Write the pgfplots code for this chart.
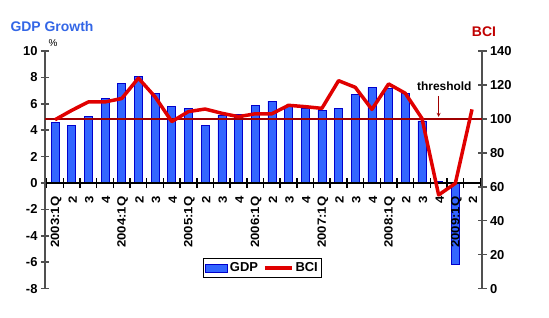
\documentclass[border=0pt]{standalone}
\usepackage{fontspec}
\setmainfont{Liberation Sans}
\newfontfamily\xlab{Liberation Sans}[FakeStretch=1.1]
\usepackage{pgfplots}
\pgfplotsset{compat=1.18}
\definecolor{gdpblue}{HTML}{3366FF}
\definecolor{gdpdark}{HTML}{0000CC}
\definecolor{titleblue}{HTML}{3366E6}
\definecolor{bcired}{HTML}{E00000}
\definecolor{bcititle}{HTML}{C00000}
\definecolor{thresh}{HTML}{A00000}
\definecolor{axisgray}{HTML}{505050}
\begin{document}
\begin{tikzpicture}
\begin{axis}[
  at={(45bp,29.4bp)}, anchor=south west,
  width=437bp, height=237.6bp, scale only axis,
  xmin=-0.6, xmax=25.6, ymin=-8, ymax=10,
  enlargelimits=false,
  axis x line=middle, axis y line=left,
  axis line style={-, line width=1.5bp},
  x axis line style={black},
  y axis line style={axisgray},
  axis on top,
  tick align=center,
  major tick length=8bp, minor tick length=10bp,
  ytick={-8,-6,...,10},
  ytick style={axisgray, line width=1.5bp},
  yticklabel style={font=\bfseries\fontsize{13}{13}\selectfont, /pgf/number format/assume math mode=true},
  xtick={0,...,25},
  xticklabels={2003:1Q,2,3,4,2004:1Q,2,3,4,2005:1Q,2,3,4,2006:1Q,2,3,4,2007:1Q,2,3,4,2008:1Q,2,3,4,2009:1Q,2},
  major x tick style={draw=none},
  minor xtick={-0.5,0.5,...,25.5},
  minor x tick style={black, line width=1.5bp},
  xticklabel style={rotate=90, anchor=east, font=\xlab\bfseries\fontsize{12}{12}\selectfont, xshift=-6bp, yshift=-1bp},
  legend columns=2,
  legend style={at={(0.4977,0.0867)}, anchor=center, draw=black, line width=0.8bp,
    font=\bfseries\fontsize{13}{13}\selectfont, inner sep=2bp,
    /tikz/every even column/.append style={column sep=3bp}},
]
\addplot[ybar, bar width=8bp, fill=gdpblue, draw=gdpdark, line width=0.6bp,
  legend image code/.code={\draw[fill=gdpblue, draw=gdpdark, line width=0.8bp] (0bp,-4bp) rectangle (22bp,4bp);}]
  coordinates {
  (0,4.62) (1,4.39) (2,5.07) (3,6.41) (4,7.55) (5,8.05) (6,6.79) (7,5.83)
  (8,5.66) (9,4.39) (10,5.15) (11,5.2) (12,5.9) (13,6.2) (14,5.78) (15,5.66)
  (16,5.53) (17,5.66) (18,6.74) (19,7.25) (20,7.17) (21,6.79) (22,4.7) (23,0.15)
  (24,-6.16)};
\addlegendentry{GDP}
\addlegendimage{legend image code/.code={\draw[bcired, line width=3.5bp] (0bp,0bp) -- (27bp,0bp);}}
\addlegendentry{BCI}
\end{axis}
\begin{axis}[
  at={(45bp,29.4bp)}, anchor=south west,
  width=437bp, height=237.6bp, scale only axis,
  xmin=-0.6, xmax=25.6, ymin=0, ymax=140,
  enlargelimits=false,
  axis x line=none, axis y line*=right,
  xtick=\empty,
  axis line style={-, line width=2bp, axisgray},
  tick align=center, major tick length=9bp,
  ytick={0,20,...,140},
  ytick style={axisgray, line width=1.5bp},
  yticklabel style={font=\bfseries\fontsize{13}{13}\selectfont, /pgf/number format/assume math mode=true},
]
\addplot[thresh, line width=1.5bp] coordinates {(-0.6,100) (25.6,100)};
\addplot[bcired, line width=3.5bp, line join=round] coordinates {
  (0,99.5) (1,105) (2,110) (3,110) (4,112) (5,124) (6,113) (7,98.4)
  (8,104.3) (9,105.8) (10,103.3) (11,101.3) (12,103) (13,103) (14,108) (15,107.2)
  (16,106.2) (17,122.5) (18,118.6) (19,105.6) (20,120.6) (21,115.1) (22,100.3) (23,55.2)
  (24,62) (25,105.6)};
\draw[thresh, line width=0.8bp, -stealth] (axis cs:23,113.5) -- (axis cs:23,101.2);
\node[font=\bfseries\fontsize{12}{12}\selectfont, inner sep=0pt] at (axis cs:23.34,119.1) {threshold};
\end{axis}
\node[font=\bfseries\fontsize{14}{14}\selectfont, text=titleblue, inner sep=0pt] at (52bp,291bp) {GDP Growth};
\node[font=\bfseries\fontsize{14}{14}\selectfont, text=bcititle, inner sep=0pt] at (484bp,286bp) {BCI};
\node[font=\fontsize{10}{10}\selectfont, inner sep=0pt] at (53bp,275bp) {\%};
\pgfresetboundingbox
\useasboundingbox (0,0) rectangle (549bp,318bp);
\end{tikzpicture}
\end{document}
